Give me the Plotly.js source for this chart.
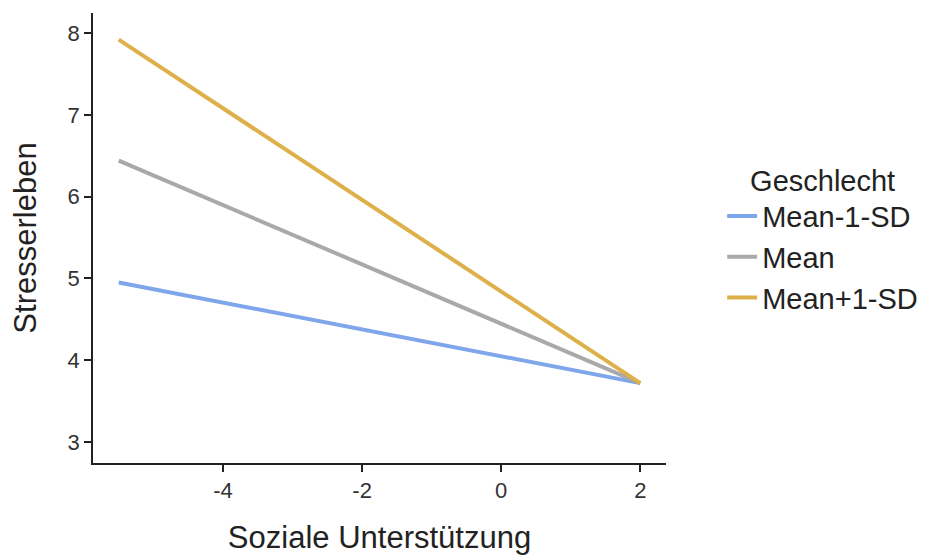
<!DOCTYPE html>
<html><head><meta charset="utf-8">
<script src="https://cdn.plot.ly/plotly-3.0.1.min.js"></script>
<style>body{margin:0;padding:0;background:#fff}#plot{width:939px;height:555px}</style>
</head><body><div id="plot"></div>
<script>
const seriesNames = ["Mean-1-SD", "Mean", "Mean+1-SD"];
const seriesColors = ["#7fa5ea", "#a9a9a9", "#deb04a"];
const xValues = [-5.5, 2];
const yLow = [4.95, 3.72];
const yMean = [6.44, 3.72];
const yHigh = [7.92, 3.72];
const xTicks = [-4, -2, 0, 2];
const yTicks = [3, 4, 5, 6, 7, 8];
const xTitle = "Soziale Unterstützung";
const yTitle = "Stresserleben";
const legendTitle = "Geschlecht";

const ys = [yLow, yMean, yHigh];
const traces = ys.map((y, i) => ({
  x: xValues, y: y, type: "scatter", mode: "lines", name: seriesNames[i],
  line: {color: seriesColors[i], width: 4}
}));
const font = "Liberation Sans, Arial, sans-serif";
const layout = {
  width: 939, height: 555,
  margin: {l: 93, r: 273, t: 13, b: 92},
  paper_bgcolor: "#fff", plot_bgcolor: "#fff",
  font: {family: font, color: "#222"},
  xaxis: {
    range: [-5.87, 2.37], tickvals: xTicks, ticktext: xTicks.map(String),
    showgrid: false, zeroline: false, showline: true, linecolor: "#222", linewidth: 1.5,
    ticks: "outside", ticklen: 7, tickwidth: 1.5, tickcolor: "#222",
    tickfont: {size: 22, color: "#333", family: font},
    title: {text: xTitle, font: {size: 31, color: "#222", family: font}, standoff: 26}
  },
  yaxis: {
    range: [2.743, 8.245], tickvals: yTicks, ticktext: yTicks.map(String),
    showgrid: false, zeroline: false, showline: true, linecolor: "#222", linewidth: 1.5,
    ticks: "outside", ticklen: 7, tickwidth: 1.5, tickcolor: "#222",
    tickfont: {size: 22, color: "#333", family: font},
    title: {text: yTitle, font: {size: 31, color: "#222", family: font}, standoff: 22}
  },
  showlegend: true,
  legend: {
    x: 1.098, y: 0.5, xanchor: "left", yanchor: "middle",
    font: {size: 29, color: "#222", family: font},
    title: {text: legendTitle, font: {size: 29, color: "#222", family: font}, side: "top center"},
    itemwidth: 30, tracegroupgap: 0, bgcolor: "rgba(0,0,0,0)"
  }
};
Plotly.newPlot("plot", traces, layout, {displayModeBar: false});
</script></body></html>
